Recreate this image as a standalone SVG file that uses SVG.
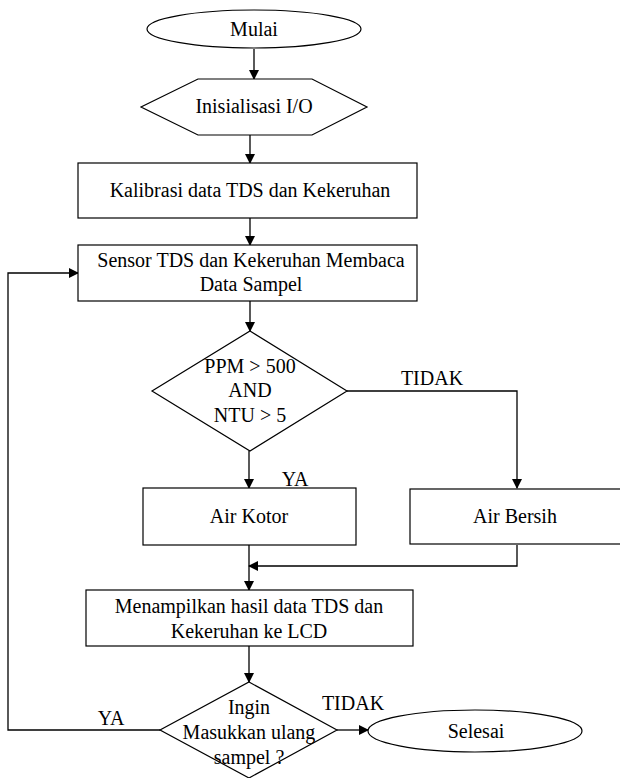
<svg xmlns="http://www.w3.org/2000/svg" width="620" height="778" viewBox="0 0 620 778">
<defs>
<marker id="arr" markerWidth="10" markerHeight="10" refX="9" refY="5" orient="auto" markerUnits="userSpaceOnUse">
<path d="M0,0 L10,5 L0,10 Z" fill="#000"/>
</marker>
<style>
.s{fill:#fff;stroke:#000;stroke-width:1.2}
.t{font-size:20px;fill:#000;text-anchor:middle}
.c{fill:none;stroke:#000;stroke-width:1.3;marker-end:url(#arr)}
</style>
</defs>
<rect width="620" height="778" fill="#fff"/>
<g font-family="Liberation Serif, Times New Roman, serif">
<g id="connectors">
<line class="c" x1="254" y1="49" x2="254" y2="79"/>
<line class="c" x1="250" y1="135" x2="250" y2="163"/>
<line class="c" x1="250" y1="218" x2="250" y2="245"/>
<line class="c" x1="250" y1="301" x2="250" y2="331"/>
<line class="c" x1="249" y1="451" x2="249" y2="488"/>
<polyline class="c" points="347,391 517,391 517,488"/>
<line class="c" x1="249" y1="545" x2="249" y2="590"/>
<polyline class="c" points="517,545 517,566 249,566"/>
<line class="c" x1="249" y1="646" x2="249" y2="682"/>
<line class="c" x1="337" y1="730" x2="368" y2="730"/>
<polyline class="c" points="160,730 8,730 8,273 78,273"/>
<text class="t" x="432" y="385">TIDAK</text>
<text class="t" x="295" y="486">YA</text>
<text class="t" x="353" y="710">TIDAK</text>
<text class="t" x="111" y="725">YA</text>
</g>
<g id="mulai">
<ellipse class="s" cx="254" cy="29" rx="107" ry="19"/>
<text class="t" x="254" y="36">Mulai</text>
</g>
<g id="inisialisasi">
<polygon class="s" points="198,79 312,79 367,107 312,135 198,135 141,107"/>
<text class="t" x="254" y="113">Inisialisasi I/O</text>
</g>
<g id="kalibrasi">
<rect class="s" x="78" y="163" width="339" height="55"/>
<text class="t" x="250" y="197">Kalibrasi data TDS dan Kekeruhan</text>
</g>
<g id="sensor">
<rect class="s" x="78" y="245" width="339" height="56"/>
<text class="t" x="251" y="267">Sensor TDS dan Kekeruhan Membaca</text>
<text class="t" x="251" y="291">Data Sampel</text>
</g>
<g id="cek">
<polygon class="s" points="250,331 347,391 250,451 152,391"/>
<text class="t" x="250" y="373">PPM &gt; 500</text>
<text class="t" x="250" y="397">AND</text>
<text class="t" x="250" y="422">NTU &gt; 5</text>
</g>
<g id="kotor">
<rect class="s" x="143" y="488" width="213" height="57"/>
<text class="t" x="249" y="523">Air Kotor</text>
</g>
<g id="bersih">
<rect class="s" x="410" y="489" width="215" height="55"/>
<text class="t" x="515" y="523">Air Bersih</text>
</g>
<g id="tampil">
<rect class="s" x="86" y="590" width="327" height="56"/>
<text class="t" x="249" y="613">Menampilkan hasil data TDS dan</text>
<text class="t" x="249" y="638">Kekeruhan ke LCD</text>
</g>
<g id="ulang">
<polygon class="s" points="249,682 337,730 249,778 160,730"/>
<text class="t" x="249" y="714">Ingin</text>
<text class="t" x="249" y="739">Masukkan ulang</text>
<text class="t" x="249" y="764">sampel ?</text>
</g>
<g id="selesai">
<ellipse class="s" cx="475" cy="731" rx="107" ry="21"/>
<text class="t" x="476" y="738">Selesai</text>
</g>
</g>
</svg>
